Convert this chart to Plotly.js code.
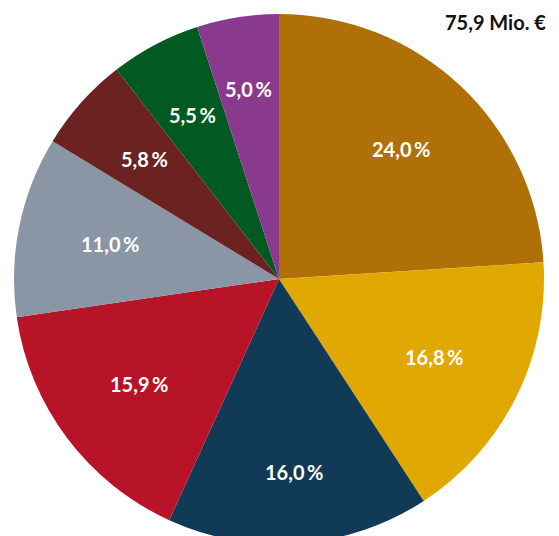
<!DOCTYPE html>
<html>
<head>
<meta charset="utf-8">
<script src="https://cdn.plot.ly/plotly-3.0.1.min.js"></script>
<style>html,body{margin:0;padding:0;overflow:hidden;background:#fff;}</style>
</head>
<body>
<div id="chart" style="width:559px;height:544px;"></div>
<script>
const categories = ["A", "B", "C", "D", "E", "F", "G", "H"];
const shares = [24.0, 16.8, 16.0, 15.9, 11.0, 5.8, 5.5, 5.0];
const colors = ["#B07008", "#E0A800", "#113A56", "#B81428", "#8A96A6", "#6B2220", "#005A22", "#8A3A8E"];
const totalLabel = "75,9 Mio. €";

const FONT = "Lato, 'Noto Sans', sans-serif";
const FS = 20;
const W = 559, H = 544;
const M = {l: 14, r: 15, t: 14, b: 0};
const plotW = W - M.l - M.r, plotH = H - M.t - M.b;
const R = Math.min(plotW, plotH) / 2;

function fmt(v) { return v.toFixed(1).replace(".", ",") + "\u2009%"; }

const ctx = document.createElement("canvas").getContext("2d");
ctx.font = "bold " + FS + "px Lato";

const total = shares.reduce((a, b) => a + b, 0);
let cum = 0;
const labelAnns = shares.map((v) => {
  const mid = (cum + v / 2) / total * 2 * Math.PI;
  cum += v;
  const txt = fmt(v);
  const w = ctx.measureText(txt).width;
  const h = 0.72 * FS;
  const s = Math.sin(mid), c = Math.cos(mid);
  const d = 0.766 * R - (Math.abs(s) * w / 2 + Math.abs(c) * h / 2);
  return {
    text: "<b>" + txt + "</b>",
    xref: "paper", yref: "paper",
    x: 0.5 + d * s / plotW,
    y: 0.5 + d * c / plotH,
    xanchor: "center", yanchor: "middle",
    showarrow: false,
    font: {family: FONT, size: FS, color: "#ffffff"}
  };
});

const trace = {
  type: "pie",
  labels: categories,
  values: shares,
  sort: false,
  direction: "clockwise",
  rotation: 0,
  marker: {colors: colors, line: {width: 0}},
  textinfo: "none",
  hoverinfo: "none",
  showlegend: false
};

const layout = {
  width: W,
  height: H,
  margin: M,
  paper_bgcolor: "#ffffff",
  showlegend: false,
  annotations: labelAnns.concat([{
    text: "<b>" + totalLabel + "</b>",
    xref: "paper", yref: "paper",
    x: 1.0, y: 1.0,
    xanchor: "right", yanchor: "top",
    xshift: 4, yshift: 6,
    showarrow: false,
    font: {family: FONT, size: FS, color: "#111111"}
  }])
};

Plotly.newPlot("chart", [trace], layout, {displayModeBar: false, staticPlot: true});
</script>
</body>
</html>
